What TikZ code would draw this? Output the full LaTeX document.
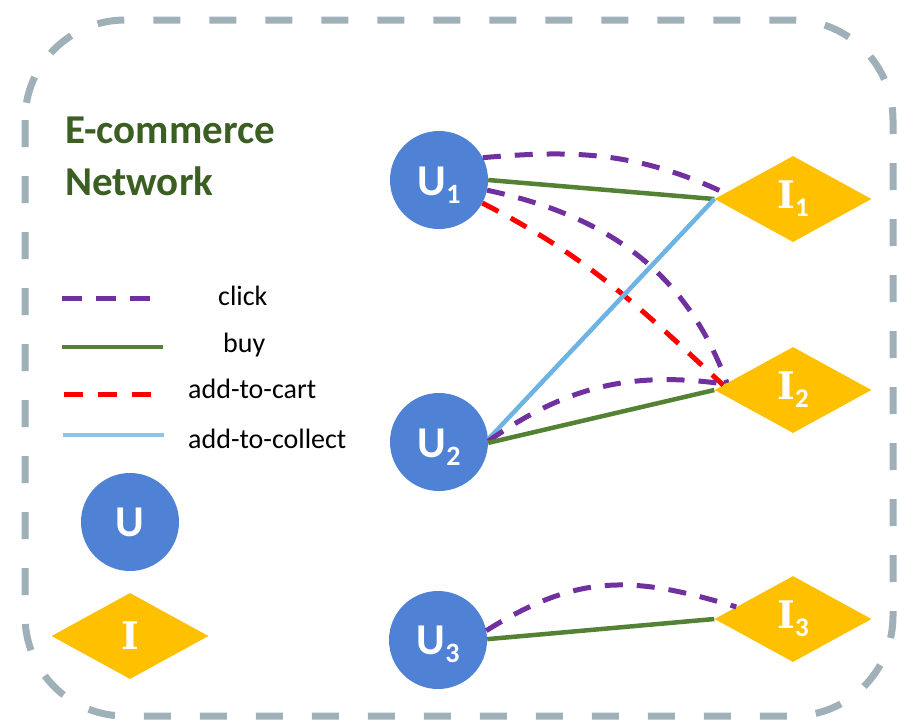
\documentclass[tikz,border=0pt]{standalone}
\usepackage{fontspec}
\setmainfont{Carlito}
\newfontfamily\serifI{DejaVu Serif}
\usetikzlibrary{shapes.geometric}
\definecolor{ublue}{HTML}{4F81D4}
\definecolor{igold}{HTML}{FFC000}
\definecolor{bordergray}{HTML}{A0B0B8}
\definecolor{clickc}{HTML}{7030A0}
\definecolor{buyc}{HTML}{548235}
\definecolor{cartc}{HTML}{FF0000}
\definecolor{collc}{HTML}{6DB3E3}
\definecolor{colllegend}{HTML}{8DC4EA}
\definecolor{titlec}{HTML}{3B5E22}
\newcommand\ulab[1]{\rule{0pt}{38pt}U\raisebox{-8pt}{\fontsize{28}{28}\selectfont\bfseries #1}}
\newcommand\bigI{{\serifI\bfseries\fontsize{38}{38}\selectfont I}}
\newcommand\ilab[1]{\bigI\raisebox{-8pt}{\fontsize{27}{27}\selectfont\bfseries #1}}
\begin{document}
\begin{tikzpicture}[x=1pt,y=-1pt,
  user/.style={circle,fill=ublue,minimum size=98pt,inner sep=0pt,text=white,font=\fontsize{44}{44}\selectfont\bfseries},
  item/.style={diamond,fill=igold,minimum width=157pt,minimum height=86pt,inner sep=0pt,text=white},
  clickl/.style={draw=clickc,line width=5pt,dash pattern=on 18pt off 14pt},
  buyl/.style={draw=buyc,line width=4.5pt},
  cartl/.style={draw=cartc,line width=5pt,dash pattern=on 18pt off 14pt},
  colll/.style={draw=collc,line width=4.5pt},
  legtext/.style={anchor=base west,font=\fontsize{28}{28}\selectfont,text=black,inner sep=0pt},
  titletext/.style={anchor=base west,font=\fontsize{41}{41}\selectfont\bfseries,text=titlec,inner sep=0pt}
]
\useasboundingbox (0,0) rectangle (897,721);
% border
\draw[bordergray,line width=7pt,dash pattern=on 27pt off 29pt,rounded corners=100pt] (25,20) rectangle (893,716);

% title
\node[titletext] (t1) at (65,143) {E-commerce};
\node[titletext] (t2) at (65,195) {Network};

% legend
\coordinate (lc1) at (62,298); \coordinate (lc2) at (150,298);
\coordinate (lb1) at (62,347); \coordinate (lb2) at (163,347);
\coordinate (la1) at (64,394); \coordinate (la2) at (151,394);
\coordinate (lo1) at (63,435); \coordinate (lo2) at (164,435);
\draw[draw=clickc,line width=5pt,dash pattern=on 20pt off 14pt] (lc1) -- (lc2);
\draw[buyl] (lb1) -- (lb2);
\draw[draw=cartc,line width=5pt,dash pattern=on 19pt off 15pt] (la1) -- (la2);
\draw[draw=colllegend,line width=4.5pt] (lo1) -- (lo2);
\node[legtext] (tclick) at (218,305) {click};
\node[legtext] (tbuy) at (223,352) {buy};
\node[legtext] (tcart) at (188,398) {add-to-cart};
\node[legtext] (tcoll) at (188,448) {add-to-collect};

\node[user] (LU) at (130,522) {U};
\node[item] (LI) at (130,636) {\bigI};

% graph nodes
\node[user] (U1) at (439,180) {\ulab{1}};
\node[user] (U2) at (439,442) {\ulab{2}};
\node[user] (U3) at (438,640) {\ulab{3}};
\node[item] (I1) at (793,199) {\ilab{1}};
\node[item] (I2) at (793,390) {\ilab{2}};
\node[item] (I3) at (793,619) {\ilab{3}};

% edges
\draw[clickl] (U1.27) to[out=5,in=155] (I1.175);
\draw[buyl] (U1.0) -- (I1.west);
\draw[clickl] (U1.-12) to[out=-12,in=110] (I2.174);
\draw[cartl] (U1.-28) to[out=-27,in=137] (I2.176);
\draw[colll] (U2.3) -- (I1.west);
\draw[clickl] (U2.1) to[out=35,in=172] (I2.175);
\draw[buyl] (U2.-1) -- (I2.west);
\draw[clickl] (U3.11) to[out=32,in=163,looseness=1.1] (I3.168);
\draw[buyl] (U3.1) -- (I3.west);
\end{tikzpicture}
\end{document}
